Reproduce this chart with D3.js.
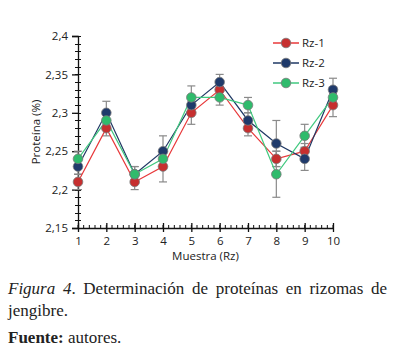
<!DOCTYPE html>
<html>
<head>
<meta charset="utf-8">
<script src="https://cdn.jsdelivr.net/npm/d3@7"></script>
<style>
body { margin: 0; background: #fff; }
#viz { position: absolute; left: 0; top: 0; width: 394px; height: 270px; }
#cap { position: absolute; left: 8px; top: 278px; width: 379px; font-family: "Liberation Serif", "Times New Roman", serif; font-size: 17px; line-height: 22px; color: #222; text-align: justify; }
#cap p { margin: 0; }
</style>
</head>
<body>
<div id="viz"></div>
<div id="cap">
  <p><i>Figura 4</i>. Determinación de proteínas en rizomas de jengibre.</p>
  <p style="margin-top:5px"><b>Fuente:</b> autores.</p>
</div>
<script>
var muestras = [1, 2, 3, 4, 5, 6, 7, 8, 9, 10];
var rz1 = [2.21, 2.28, 2.21, 2.23, 2.30, 2.33, 2.28, 2.24, 2.25, 2.31];
var rz2 = [2.23, 2.30, 2.22, 2.25, 2.31, 2.34, 2.29, 2.26, 2.24, 2.33];
var rz3 = [2.24, 2.29, 2.22, 2.24, 2.32, 2.32, 2.31, 2.22, 2.27, 2.32];
var err1 = [0.01, 0.01, 0.01, 0.02, 0.015, 0.01, 0.01, 0.01, 0.01, 0.015];
var err2 = [0.01, 0.015, 0.01, 0.02, 0.01, 0.01, 0.01, 0.03, 0.015, 0.015];
var err3 = [0.01, 0.01, 0.01, 0.01, 0.015, 0.01, 0.01, 0.03, 0.015, 0.01];
var yTicks = [2.15, 2.2, 2.25, 2.3, 2.35, 2.4];

var series = [
    {name: 'Rz-1', values: rz1, err: err1, line: '#e8383a', fill: '#c62f2f'},
    {name: 'Rz-2', values: rz2, err: err2, line: '#1f3864', fill: '#1f3a6b'},
    {name: 'Rz-3', values: rz3, err: err3, line: '#41c97f', fill: '#2fbb6c'}
];

var width = 394, height = 270;
var margin = {top: 36, right: 61, bottom: 42, left: 78};

var svg = d3.select('#viz')
    .append('svg')
    .attr('width', width)
    .attr('height', height);

var x = d3.scaleLinear()
    .domain([1, 10])
    .range([margin.left, width - margin.right]);
var y = d3.scaleLinear()
    .domain([2.15, 2.4])
    .range([height - margin.bottom, margin.top]);

var font = '"Open Sans", "Liberation Sans", sans-serif';
var axisColor = '#111';

// y minor ticks
var yMinor = d3.range(2.15, 2.4001, 0.01);
svg.append('g').selectAll('line')
    .data(yMinor)
    .enter().append('line')
    .attr('x1', margin.left - 3)
    .attr('x2', margin.left + 3)
    .attr('y1', function (d) { return Math.round(y(d)) + 0.5; })
    .attr('y2', function (d) { return Math.round(y(d)) + 0.5; })
    .attr('stroke', axisColor)
    .attr('stroke-width', 1);

var yAxis = d3.axisLeft(y)
    .tickValues(yTicks)
    .tickSize(6)
    .tickFormat(function (d) { return d3.format('.2~f')(d).replace('.', ','); });
var gy = svg.append('g')
    .attr('transform', 'translate(' + margin.left + ',0)')
    .call(yAxis);
gy.select('.domain').attr('stroke', axisColor).attr('stroke-width', 1.3);
gy.selectAll('.tick line').attr('stroke', axisColor).attr('stroke-width', 1.3);
gy.selectAll('.tick text')
    .attr('x', -10)
    .attr('font-family', font)
    .attr('font-size', 11.5)
    .attr('fill', '#222');

// x minor ticks
var xMinor = d3.range(1, 10.001, 0.2);
svg.append('g').selectAll('line')
    .data(xMinor)
    .enter().append('line')
    .attr('x1', function (d) { return x(d); })
    .attr('x2', function (d) { return x(d); })
    .attr('y1', y(2.15))
    .attr('y2', y(2.15) - 3)
    .attr('stroke', axisColor)
    .attr('stroke-width', 1);

var xAxis = d3.axisBottom(x)
    .tickValues(muestras)
    .tickSize(0)
    .tickFormat(d3.format('d'));
var gx = svg.append('g')
    .attr('transform', 'translate(0,' + y(2.15) + ')')
    .call(xAxis);
gx.select('.domain').attr('stroke', axisColor).attr('stroke-width', 1.3);
gx.selectAll('.tick line').remove();
gx.selectAll('.tick').append('line')
    .attr('y1', -5)
    .attr('y2', 4)
    .attr('stroke', axisColor)
    .attr('stroke-width', 1.3);
gx.selectAll('.tick text')
    .attr('y', 9)
    .attr('font-family', font)
    .attr('font-size', 11.5)
    .attr('fill', '#222');

// axis titles
svg.append('text')
    .attr('transform', 'translate(40,' + ((margin.top + height - margin.bottom) / 2) + ') rotate(-90)')
    .attr('text-anchor', 'middle')
    .attr('font-family', font)
    .attr('font-size', 11.5)
    .attr('fill', '#222')
    .text('Proteína (%)');
svg.append('text')
    .attr('x', (x(1) + x(10)) / 2)
    .attr('y', 260)
    .attr('text-anchor', 'middle')
    .attr('font-family', font)
    .attr('font-size', 11.5)
    .attr('fill', '#222')
    .text('Muestra (Rz)');

// error bars
series.forEach(function (s) {
    var g = svg.append('g');
    muestras.forEach(function (m, i) {
        var v = s.values[i], e = s.err[i];
        g.append('line')
            .attr('x1', x(m)).attr('x2', x(m))
            .attr('y1', y(v - e)).attr('y2', y(v + e))
            .attr('stroke', '#8a8a8a').attr('stroke-width', 1.2);
        [v - e, v + e].forEach(function (c) {
            g.append('line')
                .attr('x1', x(m) - 4).attr('x2', x(m) + 4)
                .attr('y1', y(c)).attr('y2', y(c))
                .attr('stroke', '#8a8a8a').attr('stroke-width', 1.2);
        });
    });
});

var line = d3.line()
    .x(function (d, i) { return x(muestras[i]); })
    .y(function (d) { return y(d); });

series.forEach(function (s) {
    svg.append('path')
        .datum(s.values)
        .attr('d', line)
        .attr('fill', 'none')
        .attr('stroke', s.line)
        .attr('stroke-width', 1.2);
});

series.forEach(function (s) {
    svg.append('g').selectAll('circle')
        .data(s.values)
        .enter().append('circle')
        .attr('cx', function (d, i) { return x(muestras[i]); })
        .attr('cy', function (d) { return y(d); })
        .attr('r', 4.8)
        .attr('fill', s.fill)
        .attr('stroke', '#7a7a7a')
        .attr('stroke-width', 0.8);
});

// legend
var legend = svg.append('g')
    .attr('transform', 'translate(273,43)');
series.forEach(function (s, i) {
    var row = legend.append('g').attr('transform', 'translate(0,' + (i * 20) + ')');
    row.append('line')
        .attr('x1', 0).attr('x2', 26)
        .attr('stroke', s.line)
        .attr('stroke-width', 1.5);
    row.append('circle')
        .attr('cx', 13).attr('r', 4.8)
        .attr('fill', s.fill)
        .attr('stroke', '#7a7a7a')
        .attr('stroke-width', 0.8);
    row.append('text')
        .attr('x', 29).attr('dy', '0.35em')
        .attr('font-family', font)
        .attr('font-size', 11.5)
        .attr('fill', '#222')
        .text(s.name);
});
</script>
</body>
</html>
